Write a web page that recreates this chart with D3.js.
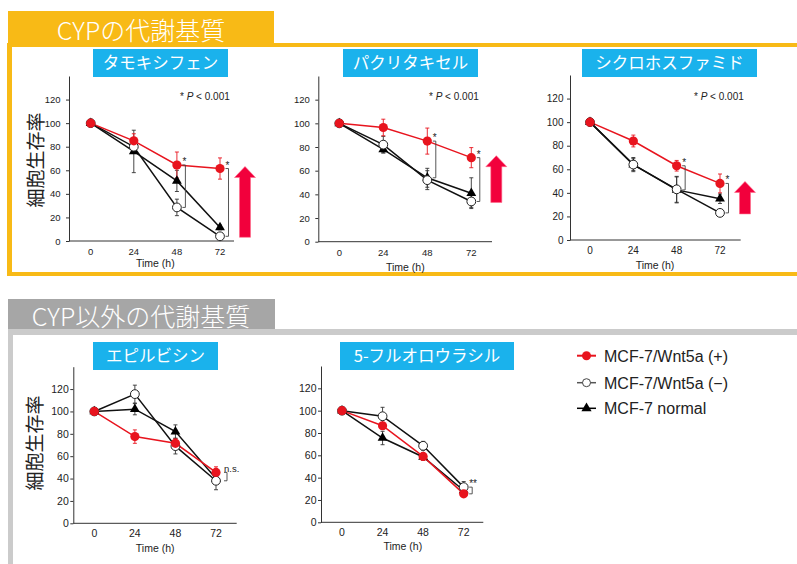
<!DOCTYPE html>
<html>
<head>
<meta charset="utf-8">
<script src="https://cdn.jsdelivr.net/npm/d3@7"></script>
<style>
  html, body { margin: 0; padding: 0; background: #fff; }
  svg { display: block; }
</style>
</head>
<body>
<svg id="chart" width="797" height="564"></svg>
<script>
// ---- data -------------------------------------------------------------
const times = [0, 24, 48, 72];
const yTicks = [0, 20, 40, 60, 80, 100, 120];
const groupTitles = ["CYPの代謝基質", "CYP以外の代謝基質"];
const drugNames = ["タモキシフェン", "パクリタキセル", "シクロホスファミド", "エピルビシン", "5-フルオロウラシル"];
const seriesNames = ["MCF-7/Wnt5a (+)", "MCF-7/Wnt5a (\u2212)", "MCF-7 normal"];
const yAxisTitle = "細胞生存率";
const xAxisTitle = "Time (h)";

// cell viability (%), one row per drug (same order as drugNames)
const wntPosMean = [
  [100, 85, 64.5, 61.5],
  [100, 96.5, 85, 71],
  [100, 84, 63, 48],
  [100, 77.5, 71.5, 45.5],
  [100, 86.5, 59, 25.5]
];
const wntPosErr = [
  [0, 6, 11, 9],
  [0, 7, 11, 8.5],
  [0, 5, 4.5, 8],
  [0, 6, 4, 5],
  [0, 3, 3, 2]
];
const wntNegMean = [
  [100, 80, 28.5, 4],
  [100, 82, 52, 34],
  [100, 64, 43, 23],
  [100, 115.5, 69, 38],
  [100, 95, 68.5, 31.5]
];
const wntNegErr = [
  [0, 4, 7, 0],
  [0, 7, 8, 5],
  [0, 5, 11, 2],
  [0, 8, 7, 8],
  [0, 8, 4, 5]
];
const normalMean = [
  [100, 76, 51, 11.5],
  [100, 78, 54, 41],
  [100, 64, 42.5, 35],
  [100, 102, 82, 40],
  [100, 75.5, 58.5, 28.5]
];
const normalErr = [
  [0, 18, 9, 2],
  [0, 3, 8, 13],
  [0, 6, 11, 4],
  [0, 5, 6, 4],
  [0, 6, 3, 3]
];

// significance marks: [time index, series A, series B, label] per drug
const sigMarks = [
  [[2, 0, 1, "*"], [3, 0, 1, "*"]],
  [[2, 0, 2, "*"], [3, 0, 1, "*"]],
  [[2, 0, 2, "*"], [3, 0, 1, "*"]],
  [[3, 0, 1, "n.s."]],
  [[3, 0, 1, "**"]]
];
const pNotes = ["P < 0.001", "P < 0.001", "P < 0.001", null, null];
const upArrows = [true, true, true, false, false];

// ---- layout -----------------------------------------------------------
const ORANGE = "#f8ba16";
const GRAY_TAB = "#a6a6a6";
const GRAY_LINE = "#cbcbcb";
const BLUE = "#1ab2ec";
const RED = "#e8141e";
const ARROW_RED = "#f2003c";
const INK = "#222";
const SANS = "'Liberation Sans', Arial, Helvetica, sans-serif";
const JP = "'Noto Sans CJK JP', 'Noto Sans', sans-serif";

const panels = [
  { ax: 69,    right: 234,   top: 76,    bottom: 241,   x0: 90.7, x1: 220,   box: [93, 49, 135, 28],  tickPad: 5.5, tickFont: 9.5,  titleDy: 25.5, yLabel: [34, 160], note: [180, 99.5] },
  { ax: 318.3, right: 492,   top: 76,    bottom: 241.7, x0: 339.3, x1: 471.3, box: [343, 49, 135, 28], tickPad: 5.5, tickFont: 9.5,  titleDy: 29, note: [429, 99.5] },
  { ax: 570,   right: 740.7, top: 75,    bottom: 240,   x0: 590,  x1: 720,   box: [582, 49, 175, 28], tickPad: 3.5, tickFont: 10,   titleDy: 28.5, note: [694, 99.5] },
  { ax: 73.3,  right: 236.7, top: 366.7, bottom: 523.3, x0: 94.3, x1: 216,   box: [93, 342, 125, 28], tickPad: 1.5, tickFont: 10.5, titleDy: 28.5, yLabel: [33, 443] },
  { ax: 321,   right: 483.3, top: 366,   bottom: 522.3, x0: 342,  x1: 463.7, box: [340, 342, 174, 28], tickPad: 1.5, tickFont: 10.5, titleDy: 28 }
];

const svg = d3.select("#chart");

// ---- section frames ---------------------------------------------------
// CYP substrates (orange)
svg.append("rect").attr("x", 8).attr("y", 11).attr("width", 266).attr("height", 35).attr("fill", ORANGE);
svg.append("rect").attr("x", 8).attr("y", 43).attr("width", 789).attr("height", 4).attr("fill", ORANGE);
svg.append("rect").attr("x", 7).attr("y", 43).attr("width", 5).attr("height", 233).attr("fill", ORANGE);
svg.append("rect").attr("x", 7).attr("y", 272).attr("width", 790).attr("height", 4).attr("fill", ORANGE);
svg.append("text").attr("x", 141).attr("y", 39.5).attr("text-anchor", "middle")
  .attr("font-family", JP).attr("font-weight", 300).attr("font-size", 25).attr("fill", "#fff").text(groupTitles[0]);

// non-CYP substrates (gray)
svg.append("rect").attr("x", 8).attr("y", 299).attr("width", 267).attr("height", 30).attr("fill", GRAY_TAB);
svg.append("rect").attr("x", 8).attr("y", 329).attr("width", 789).attr("height", 6).attr("fill", GRAY_LINE);
svg.append("rect").attr("x", 8).attr("y", 329).attr("width", 5).attr("height", 235).attr("fill", GRAY_LINE);
svg.append("text").attr("x", 141).attr("y", 326).attr("text-anchor", "middle")
  .attr("font-family", JP).attr("font-weight", 300).attr("font-size", 25).attr("fill", "#fff").text(groupTitles[1]);

// ---- panels -----------------------------------------------------------
const seriesMeans = [wntPosMean, wntNegMean, normalMean];
const seriesErrs = [wntPosErr, wntNegErr, normalErr];
const lineColor = [RED, "#111", "#111"];

panels.forEach((p, d) => {
  const g = svg.append("g");
  const x = d3.scaleLinear().domain([0, 72]).range([p.x0, p.x1]);
  const y = d3.scaleLinear().domain([0, 140]).range([p.bottom, p.top]);

  // drug title box
  g.append("rect").attr("x", p.box[0]).attr("y", p.box[1]).attr("width", p.box[2]).attr("height", p.box[3]).attr("fill", BLUE);
  g.append("text").attr("x", p.box[0] + p.box[2] / 2).attr("y", p.box[1] + p.box[3] / 2 + 6)
    .attr("text-anchor", "middle").attr("font-family", JP).attr("font-size", 16.5).attr("fill", "#fff")
    .text(drugNames[d]);

  // y axis
  const yAxis = d3.axisLeft(y).tickValues(yTicks).tickSize(3).tickSizeOuter(0).tickPadding(p.tickPad);
  const ya = g.append("g").attr("transform", `translate(${p.ax},0)`).call(yAxis);
  ya.select(".domain").attr("stroke", "#333");
  ya.selectAll(".tick line").attr("stroke", "#333");
  ya.selectAll(".tick text").attr("font-family", SANS).attr("font-size", p.tickFont).attr("fill", INK);

  // x axis baseline and labels
  g.append("line").attr("x1", p.ax).attr("x2", p.right).attr("y1", p.bottom).attr("y2", p.bottom)
    .attr("stroke", "#333").attr("stroke-width", 1);
  g.selectAll(".xt").data(times).join("text")
    .attr("x", t => x(t)).attr("y", p.bottom + 14).attr("text-anchor", "middle")
    .attr("font-family", SANS).attr("font-size", p.tickFont).attr("fill", INK).text(t => t);
  g.append("text").attr("x", x(36)).attr("y", p.bottom + p.titleDy).attr("text-anchor", "middle")
    .attr("font-family", SANS).attr("font-size", 10.5).attr("fill", INK).text(xAxisTitle);

  if (p.yLabel) {
    g.append("text").attr("transform", `translate(${p.yLabel[0]},${p.yLabel[1]}) rotate(-90)`)
      .attr("text-anchor", "middle").attr("dominant-baseline", "central")
      .attr("font-family", JP).attr("font-size", 19).attr("fill", INK).text(yAxisTitle);
  }

  if (pNotes[d]) {
    const t = g.append("text").attr("x", p.note[0]).attr("y", p.note[1])
      .attr("font-family", SANS).attr("font-size", 10).attr("fill", INK);
    t.append("tspan").text("* ");
    t.append("tspan").attr("font-style", "italic").text(pNotes[d].split(" ")[0]);
    t.append("tspan").text(" " + pNotes[d].split(" ").slice(1).join(" "));
  }

  // connecting lines (normal, Wnt5a−, Wnt5a+ on top)
  [2, 1, 0].forEach(s => {
    const line = d3.line().x((v, i) => x(times[i])).y(v => y(v));
    g.append("path").attr("d", line(seriesMeans[s][d])).attr("fill", "none")
      .attr("stroke", lineColor[s]).attr("stroke-width", 1.5);
  });

  // error bars
  [2, 1, 0].forEach(s => {
    const col = s === 0 ? RED : "#333";
    times.forEach((t, i) => {
      const m = seriesMeans[s][d][i], e = seriesErrs[s][d][i];
      if (!e) return;
      const cx = x(t);
      g.append("line").attr("x1", cx).attr("x2", cx).attr("y1", y(m + e)).attr("y2", y(m - e))
        .attr("stroke", col).attr("stroke-width", 0.9);
      [m + e, m - e].forEach(v => {
        g.append("line").attr("x1", cx - 2).attr("x2", cx + 2).attr("y1", y(v)).attr("y2", y(v))
          .attr("stroke", col).attr("stroke-width", 0.9);
      });
    });
  });

  // markers
  times.forEach((t, i) => {
    g.append("path").attr("d", d3.symbol(d3.symbolTriangle, 42)())
      .attr("transform", `translate(${x(t)},${y(normalMean[d][i])})`).attr("fill", "#000");
  });
  times.forEach((t, i) => {
    g.append("circle").attr("cx", x(t)).attr("cy", y(wntNegMean[d][i])).attr("r", 4.4)
      .attr("fill", "#fff").attr("stroke", "#222").attr("stroke-width", 1);
  });
  times.forEach((t, i) => {
    g.append("circle").attr("cx", x(t)).attr("cy", y(wntPosMean[d][i])).attr("r", 4.6).attr("fill", RED);
  });

  // significance brackets
  sigMarks[d].forEach(([ti, a, b, label]) => {
    const bx = x(times[ti]) + (d === 3 ? 11 : 8.5);
    const ya1 = y(seriesMeans[a][d][ti]), yb1 = y(seriesMeans[b][d][ti]);
    const yTop = Math.min(ya1, yb1), yBot = Math.max(ya1, yb1);
    g.append("path").attr("d", `M${bx - 3},${yTop}H${bx}V${yBot}H${bx - 3}`)
      .attr("fill", "none").attr("stroke", "#444").attr("stroke-width", 0.9);
    g.append("text").attr("x", bx - 3).attr("y", yTop).attr("font-family", SANS)
      .attr("font-size", label === "n.s." ? 9.5 : 10).attr("fill", INK).text(label);
  });

  // upward arrow: Wnt5a(+) keeps viability at 72 h
  if (upArrows[d]) {
    const cx = x(72) + 25;
    const top = y(wntPosMean[d][3]) - 2, bot = y(wntNegMean[d][3]) + 1;
    const hw = 10.5, sw = 5.5, hh = 11;
    g.append("path")
      .attr("d", `M${cx},${top}L${cx + hw},${top + hh}H${cx + sw}V${bot}H${cx - sw}V${top + hh}H${cx - hw}Z`)
      .attr("fill", ARROW_RED).attr("stroke", "#ff6a88").attr("stroke-width", 0.6);
  }
});

// ---- legend -----------------------------------------------------------
const legendRows = [355.7, 382.7, 408.3];
seriesNames.forEach((name, s) => {
  const ly = legendRows[s];
  const lg = svg.append("g");
  lg.append("line").attr("x1", 577).attr("x2", 596).attr("y1", ly).attr("y2", ly)
    .attr("stroke", s === 0 ? RED : (s === 1 ? "#555" : "#000")).attr("stroke-width", s === 0 ? 2 : 1.5);
  if (s === 0) {
    lg.append("circle").attr("cx", 586.5).attr("cy", ly).attr("r", 4.5).attr("fill", RED);
  } else if (s === 1) {
    lg.append("circle").attr("cx", 586.5).attr("cy", ly).attr("r", 4).attr("fill", "#fff")
      .attr("stroke", "#444").attr("stroke-width", 1);
  } else {
    lg.append("path").attr("d", d3.symbol(d3.symbolTriangle, 45)())
      .attr("transform", `translate(586.5,${ly})`).attr("fill", "#000");
  }
  lg.append("text").attr("x", 604).attr("y", ly + 6).attr("font-family", SANS)
    .attr("font-size", 16).attr("fill", INK).text(name);
});
</script>
</body>
</html>
